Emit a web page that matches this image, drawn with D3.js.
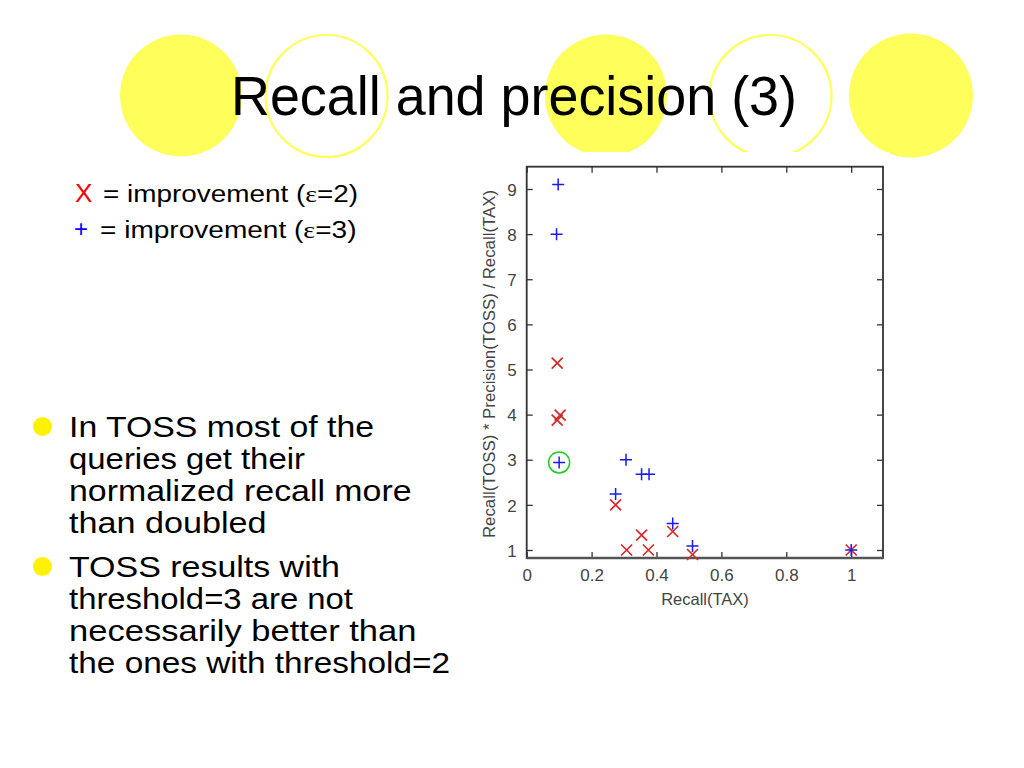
<!DOCTYPE html>
<html><head><meta charset="utf-8">
<script src="https://cdn.jsdelivr.net/npm/d3@7"></script>
<style>html,body{margin:0;padding:0;background:#fff;}svg{display:block;}</style>
</head><body>
<script>
// ---- data ----
const xTicks = [0, 0.2, 0.4, 0.6, 0.8, 1];
const yTicks = [1, 2, 3, 4, 5, 6, 7, 8, 9];
// improvement eps=2 (red X)
const epsTwoX = [0.094, 0.103, 0.094, 0.274, 0.354, 0.308, 0.375, 0.45, 0.511, 1.0];
const epsTwoY = [5.14, 3.99, 3.88, 2.0, 1.33, 1.0, 1.0, 1.41, 0.9, 1.0];
// improvement eps=3 (blue +)
const epsThreeX = [0.097, 0.092, 0.1, 0.306, 0.354, 0.377, 0.274, 0.45, 0.511, 1.0];
const epsThreeY = [9.1, 8.0, 2.94, 3.0, 2.68, 2.68, 2.24, 1.59, 1.09, 1.0];
const highlighted = [0.1, 2.94];
const titleText = "Recall and precision (3)";
const xLabel = "Recall(TAX)";
const yLabel = "Recall(TOSS) * Precision(TOSS) / Recall(TAX)";
const bullets = [
  ["In TOSS most of the", "queries get their", "normalized recall more", "than doubled"],
  ["TOSS results with", "threshold=3 are not", "necessarily better than", "the ones with threshold=2"]
];

const svg = d3.select("body").append("svg").attr("width", 1024).attr("height", 768);
const FONT = "'Liberation Sans', Arial, Helvetica, sans-serif";

// decorative circles
const YEL = "#ffff5c";
[[181, 95.5, 61, true], [326.5, 96, 62, false], [606, 95.5, 61, true], [770.5, 96, 62, false], [911, 95.5, 62, true]]
  .forEach(([cx, cy, r, filled]) => {
    svg.append("circle").attr("cx", cx).attr("cy", cy).attr("r", filled ? r : r - 1)
      .attr("fill", filled ? YEL : "none").attr("stroke", YEL).attr("stroke-width", filled ? 0 : 2.2);
  });

// chart image background (covers circles)
svg.append("rect").attr("x", 472).attr("y", 152).attr("width", 418).attr("height", 460).attr("fill", "#fff");

// title
svg.append("text").attr("x", 231).attr("y", 115).attr("font-family", FONT).attr("font-size", 56)
  .attr("textLength", 566).attr("lengthAdjust", "spacingAndGlyphs").attr("fill", "#000").text(titleText);

// legend
const leg = svg.append("g").attr("font-family", FONT);
leg.append("text").attr("x", 75).attr("y", 202).attr("font-size", 25).attr("fill", "#ff0000")
  .attr("textLength", 17.5).attr("lengthAdjust", "spacingAndGlyphs").text("X");
const l1 = leg.append("text").attr("x", 103).attr("y", 202).attr("font-size", 23).attr("fill", "#000")
  .attr("textLength", 255).attr("lengthAdjust", "spacingAndGlyphs");
l1.append("tspan").text("= improvement (");
l1.append("tspan").attr("font-family", "'Liberation Serif', 'DejaVu Serif', serif").text("ε");
l1.append("tspan").text("=2)");
leg.append("text").attr("x", 74).attr("y", 237).attr("font-size", 24).attr("fill", "#0000ff").text("+");
const l2 = leg.append("text").attr("x", 100).attr("y", 238).attr("font-size", 23).attr("fill", "#000")
  .attr("textLength", 256.5).attr("lengthAdjust", "spacingAndGlyphs");
l2.append("tspan").text("= improvement (");
l2.append("tspan").attr("font-family", "'Liberation Serif', 'DejaVu Serif', serif").text("ε");
l2.append("tspan").text("=3)");

// bullets
const bulletTop = [437, 577];
const lineWidths = [[305, 236, 342.5, 197.5], [271, 284, 347.5, 381]];
bullets.forEach((lines, bi) => {
  svg.append("circle").attr("cx", 42.5).attr("cy", bulletTop[bi] - 10.5).attr("r", 9.5).attr("fill", "#fff200");
  lines.forEach((t, li) => {
    svg.append("text").attr("x", 69).attr("y", bulletTop[bi] + li * 32).attr("font-family", FONT)
      .attr("font-size", 30).attr("fill", "#000")
      .attr("textLength", lineWidths[bi][li]).attr("lengthAdjust", "spacingAndGlyphs").text(t);
  });
});

// chart
const L = 526.7, R = 883, T = 166.7, B = 558;
const x = d3.scaleLinear().domain([0, 1.1]).range([L, L + 1.1 * 324.5]);
const y = d3.scaleLinear().domain([1, 9]).range([550, 189]);
const chart = svg.append("g");

const axB = chart.append("g").attr("transform", `translate(0,${B})`)
  .call(d3.axisBottom(x).tickValues(xTicks).tickSizeInner(-6).tickSizeOuter(0).tickPadding(10).tickFormat(d3.format("")));
const axT = chart.append("g").attr("transform", `translate(0,${T})`)
  .call(d3.axisTop(x).tickValues(xTicks).tickSizeInner(-6).tickSizeOuter(0).tickFormat(""));
const axLf = chart.append("g").attr("transform", `translate(${L},0)`)
  .call(d3.axisLeft(y).tickValues(yTicks).tickSizeInner(-6).tickSizeOuter(0).tickPadding(10));
const axRt = chart.append("g").attr("transform", `translate(${R},0)`)
  .call(d3.axisRight(y).tickValues(yTicks).tickSizeInner(-6).tickSizeOuter(0).tickFormat(""));
[axB, axT, axLf, axRt].forEach(a => {
  a.select(".domain").remove();
  a.selectAll(".tick line").attr("stroke", "#333").attr("stroke-width", 1.3);
  a.selectAll(".tick text").attr("font-family", FONT).attr("font-size", 17).attr("fill", "#444");
});
axB.selectAll(".tick text").attr("dy", null).attr("y", 22.5);
axLf.selectAll(".tick text").attr("x", -10).attr("dy", "0.36em");

chart.append("rect").attr("x", L).attr("y", T).attr("width", R - L).attr("height", B - T)
  .attr("fill", "none").attr("stroke", "#333").attr("stroke-width", 1.8);
chart.append("line").attr("x1", L).attr("x2", R).attr("y1", B).attr("y2", B).attr("stroke", "#555").attr("stroke-width", 2.6);

chart.append("text").attr("x", 705).attr("y", 605).attr("text-anchor", "middle").attr("font-family", FONT)
  .attr("font-size", 16.5).attr("fill", "#444").text(xLabel);
chart.append("text").attr("transform", "translate(495,364) rotate(-90)").attr("text-anchor", "middle")
  .attr("font-family", FONT).attr("font-size", 16.5).attr("fill", "#444")
  .attr("textLength", 348).attr("lengthAdjust", "spacingAndGlyphs").text(yLabel);

// red X markers
const s = 5.5;
const reds = chart.append("g").attr("stroke", "#d42a2a").attr("stroke-width", 1.7);
epsTwoX.forEach((xv, i) => {
  const px = x(xv), py = y(epsTwoY[i]);
  reds.append("path").attr("d", `M${px - s},${py - s}L${px + s},${py + s}M${px - s},${py + s}L${px + s},${py - s}`);
});
// blue + markers
const p = 6;
const blues = chart.append("g").attr("stroke", "#1a1aee").attr("stroke-width", 1.5);
epsThreeX.forEach((xv, i) => {
  const px = x(xv), py = y(epsThreeY[i]);
  blues.append("path").attr("d", `M${px - p},${py}L${px + p},${py}M${px},${py - p}L${px},${py + p}`);
});
// highlight circle
chart.append("circle").attr("cx", x(highlighted[0])).attr("cy", y(highlighted[1])).attr("r", 10.5)
  .attr("fill", "none").attr("stroke", "#22cc22").attr("stroke-width", 1.5);
</script>
</body></html>
